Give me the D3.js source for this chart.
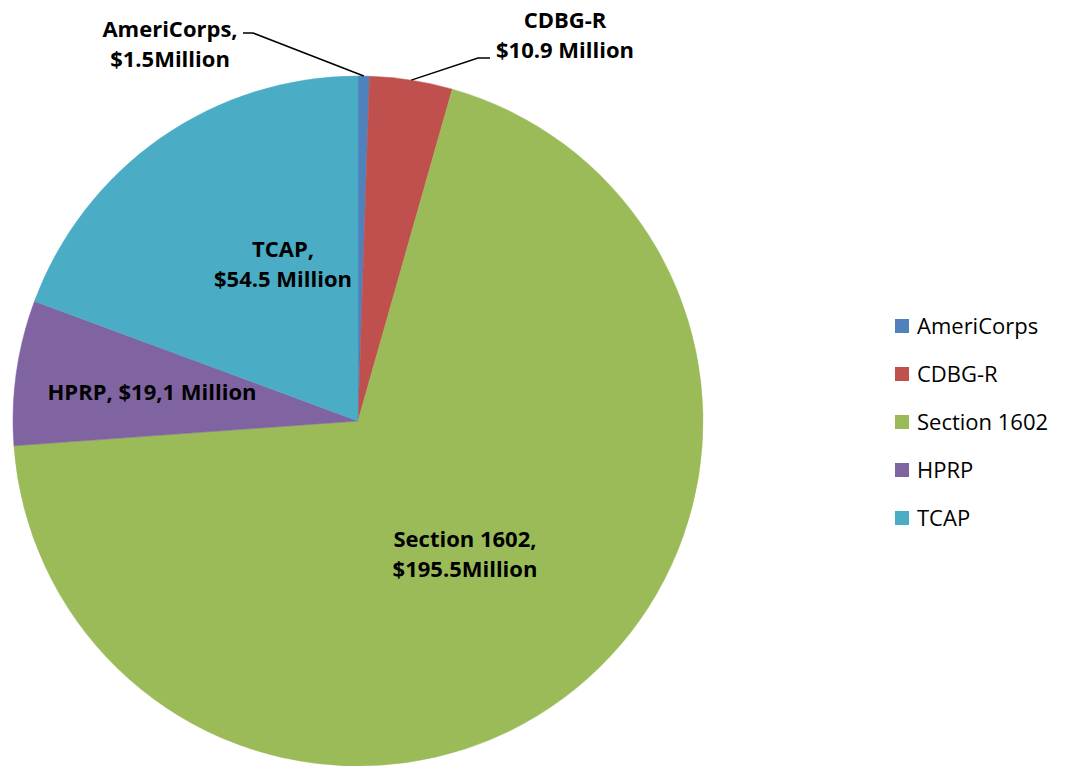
<!DOCTYPE html>
<html>
<head>
<meta charset="utf-8">
<script src="https://cdn.jsdelivr.net/npm/d3@7"></script>
<style>
    html, body { margin: 0; padding: 0; background: #fff; }
    .slice-label { font-family: 'Open Sans', sans-serif; font-weight: bold; font-size: 22px; fill: #000; }
    .legend-text { font-family: 'Open Sans', sans-serif; font-size: 22px; fill: #000; }
</style>
</head>
<body>
<svg id="chart" width="1065" height="768"></svg>
<script>
'use strict';

// data
const categories = ['AmeriCorps', 'CDBG-R', 'Section 1602', 'HPRP', 'TCAP'];
const values = [1.5, 10.9, 195.5, 19.1, 54.5];
const labelLines = [
    ['AmeriCorps,', '$1.5Million'],
    ['CDBG-R', '$10.9 Million'],
    ['Section 1602,', '$195.5Million'],
    ['HPRP, $19,1 Million'],
    ['TCAP,', '$54.5 Million']
];
const colors = ['#4f81bd', '#c0504d', '#9bbb59', '#8064a2', '#4bacc6'];

(function() {
    const d3 = window.d3;
    const svg = d3.select('#chart');
    const cx = 358, cy = 421, radius = 345;

    // label layout, relative to the pie centre (first line baseline)
    const labelLayout = [
        {x: -188, y: -384, leader: [[-105, -388], [-115, -388]]},
        {x: 207, y: -393, leader: [[120, -363], [132, -363]]},
        {x: 107, y: 126},
        {x: -206, y: -21},
        {x: -75, y: -164}
    ];

    const pie = d3.pie().sort(null).value(d => d)(values);
    const arc = d3.arc().innerRadius(0).outerRadius(radius);

    const g = svg.append('g')
        .attr('transform', 'translate(' + cx + ',' + cy + ')');

    g.selectAll('path.slice')
        .data(pie)
        .enter()
        .append('path')
        .attr('class', 'slice')
        .attr('d', arc)
        .attr('fill', (d, i) => colors[i])
        .attr('stroke', (d, i) => colors[i])
        .attr('stroke-width', 0.5);

    // leader lines
    pie.forEach((d, i) => {
        const lay = labelLayout[i];
        if (!lay.leader) return;
        const mid = (d.startAngle + d.endAngle) / 2;
        const p = [Math.sin(mid) * radius, -Math.cos(mid) * radius];
        const pts = [p].concat(lay.leader);
        g.append('path')
            .attr('d', d3.line()(pts))
            .attr('fill', 'none')
            .attr('stroke', '#000')
            .attr('stroke-width', 1.5);
    });

    // labels
    pie.forEach((d, i) => {
        const lay = labelLayout[i];
        const t = g.append('text')
            .attr('class', 'slice-label')
            .attr('text-anchor', 'middle')
            .attr('x', lay.x)
            .attr('y', lay.y);
        labelLines[i].forEach((line, j) => {
            t.append('tspan')
                .attr('x', lay.x)
                .attr('dy', j === 0 ? 0 : 30)
                .text(line);
        });
    });

    // legend
    const legendY = d3.scalePoint()
        .domain(categories)
        .range([326, 518]);

    const item = svg.append('g')
        .selectAll('g')
        .data(categories)
        .enter()
        .append('g')
        .attr('transform', d => 'translate(895,' + legendY(d) + ')');

    item.append('rect')
        .attr('x', 0)
        .attr('y', -7)
        .attr('width', 14)
        .attr('height', 14)
        .attr('fill', (d, i) => colors[i]);

    item.append('text')
        .attr('class', 'legend-text')
        .attr('x', 22)
        .attr('y', 8)
        .text(d => d);
}());
</script>
</body>
</html>
